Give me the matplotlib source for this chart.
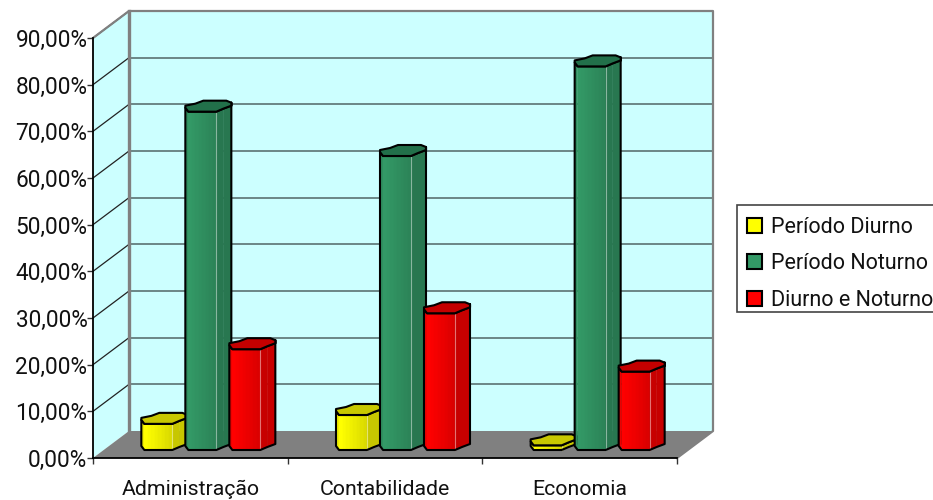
import matplotlib
matplotlib.use("Agg")
import matplotlib.pyplot as plt
from matplotlib.patches import Polygon, Patch, Rectangle

plt.rcParams['font.family'] = ['Roboto', 'DejaVu Sans']

cursos = ["Administração", "Contabilidade", "Economia"]
diurno = [5.6, 7.5, 1]
noturno = [72.5, 63, 82.2]
ambos = [21.6, 29.3, 16.8]
y_labels = ["0,00%", "10,00%", "20,00%", "30,00%", "40,00%", "50,00%", "60,00%", "70,00%", "80,00%", "90,00%"]
series = [("Período Diurno", diurno, (1, 1, 0), "#C8C800"),
          ("Período Noturno", noturno, (0.2, 0.6, 0.4), "#22704A"),
          ("Diurno e Noturno", ambos, (1, 0, 0), "#C40000")]

fig = plt.figure(figsize=(9.33, 5.0), dpi=100)
ax = fig.add_axes([93 / 933, 1 - 458 / 500, 584 / 933, 420 / 500])
ax.set_xlim(0, 3)
ax.set_ylim(0, 90)
ax.patch.set_visible(False)

# tamanho de um pixel em unidades dos eixos
px = 3 / 584
py = 90 / 420
dx = 36 * px
dy = 27 * py
parede = "#CCFFFF"
cinza = "#808080"

# paredes e chao
ax.add_patch(Polygon([(dx, dy), (3 + dx, dy), (3 + dx, 90 + dy), (dx, 90 + dy)], fc=parede, ec="none", clip_on=False, zorder=1))
ax.add_patch(Polygon([(0, 0), (dx, dy), (dx, 90 + dy), (0, 90)], fc=parede, ec="none", clip_on=False, zorder=1))
ax.add_patch(Polygon([(0, 0), (3, 0), (3 + dx, dy), (dx, dy)], fc=cinza, ec="none", clip_on=False, zorder=1))

yticks = list(range(0, 100, 10))
for v in yticks[1:-1]:
    ax.plot([dx, 3 + dx], [v + dy, v + dy], color="#5A7272", lw=1.2, clip_on=False, zorder=2)
for v in yticks[1:]:
    ax.plot([0, dx], [v, v + dy], color="#222222", lw=0.9, clip_on=False, zorder=2)

# moldura cinza
ax.plot([0, dx, 3 + dx, 3 + dx, 3], [90, 90 + dy, 90 + dy, dy, 0], color=cinza, lw=1.6, clip_on=False, zorder=2)
ax.plot([dx, dx], [dy, 90 + dy], color=cinza, lw=2.4, clip_on=False, zorder=2)

# contorno octogonal das colunas, em pixels a partir do centro
frente = [(-23, 1.5), (-20, 5.5), (8, 5.5), (15, 2.5), (23, -0.5)]
tras = [(23, -3.5), (18, -5.5), (-5, -5.5), (-13, -2.5), (-23, -0.5)]


def escurece(cor, f):
    return tuple(c * f for c in cor)


def coluna(cx, valor, cor, topo, z):
    base = dy / 2
    cy = valor + dy / 2
    def p(ox, oy, y0):
        return (cx + ox * px, y0 - oy * py)
    # faces verticais em tiras, clareando para a esquerda
    for k in range(len(frente) - 1):
        a, b = frente[k], frente[k + 1]
        n = 8 if k == 1 else 1
        for j in range(n):
            t0, t1 = j / n, (j + 1) / n
            xa = a[0] + (b[0] - a[0]) * t0
            xb = a[0] + (b[0] - a[0]) * t1
            ya = a[1] + (b[1] - a[1]) * t0
            yb = a[1] + (b[1] - a[1]) * t1
            if k == 0:
                f = 0.92
            elif k == 1:
                f = 1.0 - 0.16 * t0
            else:
                f = 0.78
            ax.add_patch(Polygon([p(xa, ya, base), p(xb, yb, base), p(xb, yb, cy), p(xa, ya, cy)],
                                 fc=escurece(cor, f), ec=escurece(cor, f), lw=0.3, clip_on=False, zorder=z))
    # aresta clara entre as faces
    clara = tuple(c + (1 - c) * 0.45 for c in escurece(cor, 0.8))
    ax.plot([cx + 8 * px, cx + 8 * px], [base - 5.5 * py, cy - 5.5 * py], color=clara, lw=0.8, clip_on=False, zorder=z + 0.1)
    # contorno e tampa
    contorno = [p(ox, oy, base) for ox, oy in frente] + [p(23, -3.5, base), p(23, -3.5, cy)] + [p(ox, oy, cy) for ox, oy in reversed(frente)]
    ax.add_patch(Polygon(contorno, fc="none", ec="black", lw=1.5, joinstyle="round", clip_on=False, zorder=z + 0.2))
    tampa = [p(ox, oy, cy) for ox, oy in frente + tras]
    ax.add_patch(Polygon(tampa, fc=topo, ec="black", lw=1.5, joinstyle="round", clip_on=False, zorder=z + 0.3))


for i in range(len(cursos)):
    for s, (nome, valores, cor, topo) in enumerate(series):
        centro = i + 0.5 + (s - 1) * 44 * px + dx / 2
        coluna(centro, valores[i], cor, topo, 3 + s)

# eixos
for lado in ["top", "right"]:
    ax.spines[lado].set_visible(False)
for lado in ["left", "bottom"]:
    ax.spines[lado].set_linewidth(1.3)
    ax.spines[lado].set_zorder(8)
ax.set_yticks(yticks)
ax.set_yticklabels(y_labels, fontsize=16.3, color="#111111")
ax.set_xticks([0, 1, 2, 3])
ax.set_xticklabels([])
ax.set_xticks([0.5, 1.5, 2.5], minor=True)
ax.set_xticklabels(cursos, minor=True, fontsize=15.3, color="#111111")
ax.tick_params(axis="x", which="minor", length=0, pad=16)
ax.tick_params(axis="both", which="major", length=4, width=1, color="#333333")
ax.tick_params(axis="y", pad=0)

# caixa da legenda desenhada a parte, sai pela direita da figura
fig.add_artist(Rectangle((737 / 933, 1 - 312 / 500), 200 / 933, 107 / 500, transform=fig.transFigure,
                         fc="white", ec="#444444", lw=1.2))

handles = [Patch(fc=cor, ec="black", lw=1.5, label=nome) for nome, _, cor, _ in series]
leg = fig.legend(handles=handles, loc="upper left", bbox_to_anchor=(737 / 933, 1 - 207 / 500),
                 bbox_transform=fig.transFigure, borderaxespad=0, fontsize=15.5, frameon=False,
                 handlelength=0.7, handleheight=0.7, handletextpad=0.42, labelspacing=0.72,
                 borderpad=0.45, labelcolor="#111111")

plt.savefig("out.png", dpi=100)
